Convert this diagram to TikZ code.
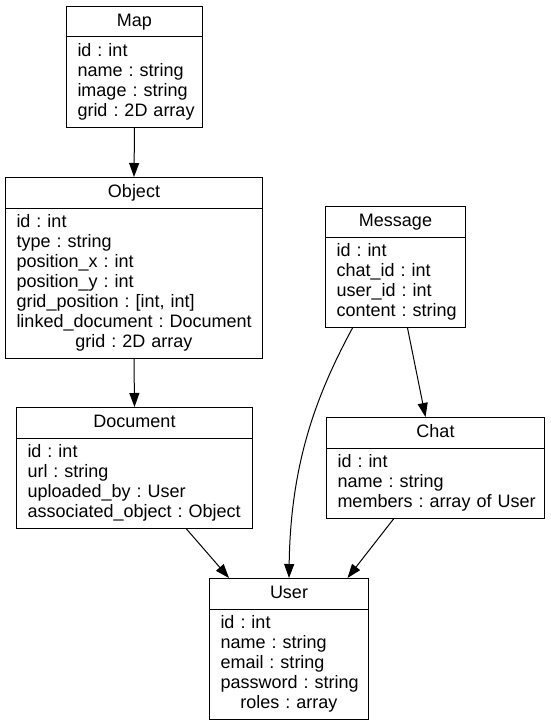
\documentclass[tikz,border=0pt]{standalone}
\usepackage{fontspec}
\setmainfont{Liberation Sans}
\usetikzlibrary{arrows.meta}
\newcommand{\clsfont}{\fontsize{18}{20}\selectfont\frenchspacing}
\tikzset{
  cls/.style={draw, line width=1pt, inner sep=0pt, anchor=north west,
    font=\clsfont},
  hdr/.style={cls, text height=13pt, text depth=4pt},
  body/.style={cls, align=left, inner xsep=11pt, inner ysep=0pt},
  arr/.style={line width=1pt, -{Triangle[length=14pt,width=10pt]}},
}
\newcommand{\row}[1]{\mbox{#1}}
\newcommand{\ctrline}[1]{\hbox to\hsize{\hss #1\hss}}
\begin{document}
\hyphenpenalty=10000
\hbadness=10000
\hfuzz=100pt
\frenchspacing
\begin{tikzpicture}[x=1pt,y=-1pt]
\useasboundingbox (0,0) rectangle (550,725);
% Map
\node[hdr, minimum width=136pt, minimum height=30.5pt] (mapH) at (66,6) {Map};
\node[body, text width=114pt, minimum height=90.5pt] (mapB) at (66,36.5)
  {\row{id : int}\\\row{name : string}\\\row{image : string}\\\row{grid : 2D array}};
% Object
\node[hdr, minimum width=257pt, minimum height=30.5pt] (objH) at (5,177) {Object};
\node[body, text width=235pt, minimum height=150.5pt] (objB) at (5,207.5)
  {\row{id : int}\\\row{type : string}\\\row{position\_x : int}\\\row{position\_y : int}\\\row{grid\_position : [int, int]}\\\row{linked\_document : Document}\\\ctrline{grid : 2D array}};
% Document
\node[hdr, minimum width=236pt, minimum height=30.5pt] (docH) at (16,407) {Document};
\node[body, text width=214pt, minimum height=90.5pt] (docB) at (16,437.5)
  {\row{id : int}\\\row{url : string}\\\row{uploaded\_by : User}\\\row{associated\_object : Object}};
% Message
\node[hdr, minimum width=140pt, minimum height=30.5pt] (msgH) at (325,206) {Message};
\node[body, text width=118pt, minimum height=90.5pt] (msgB) at (325,236.5)
  {\row{id : int}\\\row{chat\_id : int}\\\row{user\_id : int}\\\row{content : string}};
% Chat
\node[hdr, minimum width=218pt, minimum height=30.5pt] (chatH) at (326,417) {Chat};
\node[body, text width=196pt, minimum height=70.5pt] (chatB) at (326,447.5)
  {\row{id : int}\\\row{name : string}\\\row{members : array of User}};
% User
\node[hdr, minimum width=159pt, minimum height=30.5pt] (userH) at (209,578) {User};
\node[body, text width=137pt, minimum height=110.5pt] (userB) at (209,608.5)
  {\row{id : int}\\\row{name : string}\\\row{email : string}\\\row{password : string}\\\ctrline{roles : array}};
% Edges
\draw[arr] (mapB.south) -- (objH.north);
\draw[arr] (objB.south) -- (docH.north);
\draw[arr] ([xshift=52pt]docB.south) -- ([xshift=-60pt]userH.north);
\draw[arr] ([xshift=-43pt]msgB.south) .. controls +(-34,63) and +(1.5,-118) .. (userH.north);
\draw[arr] ([xshift=12pt]msgB.south) -- ([xshift=-10pt]chatH.north);
\draw[arr] ([xshift=-42pt]chatB.south) -- ([xshift=58.5pt]userH.north);
\end{tikzpicture}
\end{document}
